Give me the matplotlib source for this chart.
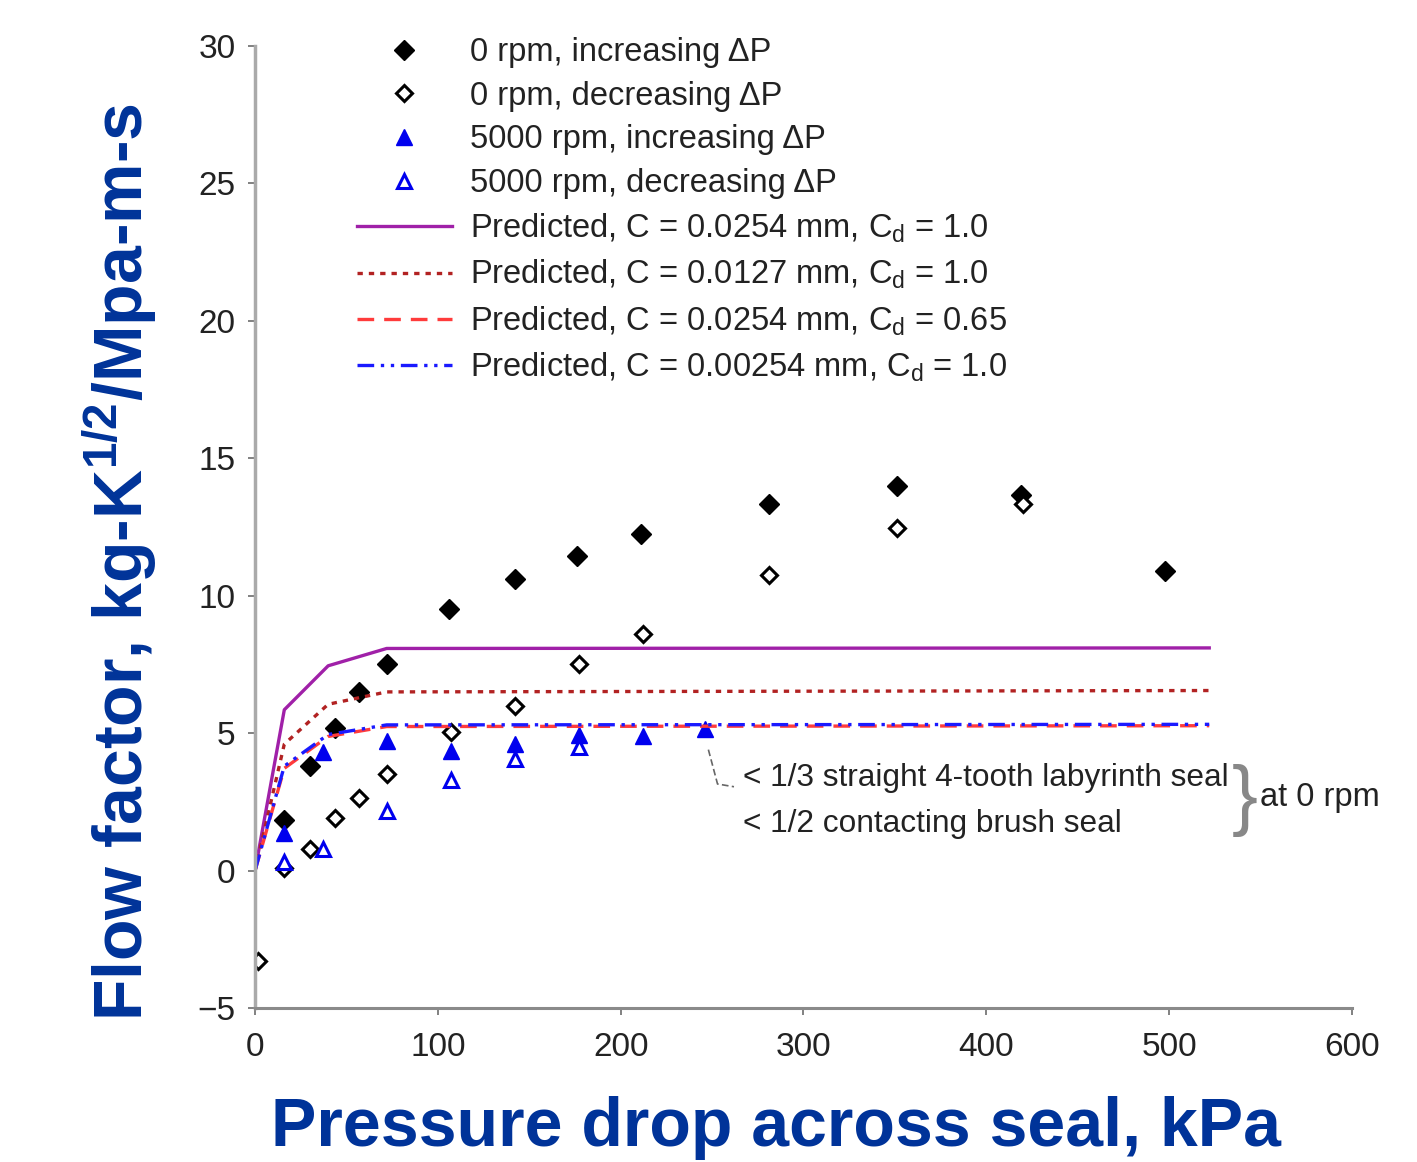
import matplotlib
matplotlib.use("Agg")
import matplotlib.pyplot as plt

plt.rcParams['font.family'] = ['Liberation Sans', 'DejaVu Sans']
plt.rcParams['mathtext.default'] = 'regular'

# 0 rpm, increasing dP
x_0inc = [16, 30, 44, 57, 72, 106, 142, 176, 211, 281, 351, 419, 498]
y_0inc = [1.85, 3.8, 5.2, 6.5, 7.5, 9.5, 10.6, 11.45, 12.25, 13.35, 14.0, 13.65, 10.9]
# 0 rpm, decreasing dP
x_0dec = [1.5, 16, 30, 44, 57, 72, 107, 142, 177, 212, 281, 351, 420]
y_0dec = [-3.3, 0.1, 0.8, 1.9, 2.65, 3.5, 5.05, 6.0, 7.5, 8.6, 10.75, 12.45, 13.35]
# 5000 rpm, increasing dP
x_5inc = [16, 37, 72, 107, 142, 177, 212, 246]
y_5inc = [1.35, 4.3, 4.7, 4.35, 4.6, 4.95, 4.9, 5.15]
# 5000 rpm, decreasing dP
x_5dec = [16, 37, 72, 107, 142, 177]
y_5dec = [0.3, 0.8, 2.15, 3.3, 4.05, 4.5]

# predicted curves
x_pred = [0, 16, 40, 72, 522]
y_pred_a = [0, 5.85, 7.45, 8.08, 8.1]    # C = 0.0254 mm, Cd = 1.0
y_pred_b = [0, 4.6, 6.05, 6.5, 6.55]     # C = 0.0127 mm, Cd = 1.0
y_pred_c = [0, 3.72, 4.88, 5.24, 5.27]   # C = 0.0254 mm, Cd = 0.65
y_pred_d = [0, 3.8, 4.95, 5.3, 5.32]     # C = 0.00254 mm, Cd = 1.0

xticks = [0, 100, 200, 300, 400, 500, 600]
yticks = [-5, 0, 5, 10, 15, 20, 25, 30]

fig = plt.figure(figsize=(14.17, 11.62), dpi=100)
ax = fig.add_axes([0.18, 0.1325, 0.774, 0.828])

ax.plot(x_0inc, y_0inc, 'D', ms=10, color='black', ls='none',
        label='0 rpm, increasing ΔP')
ax.plot(x_0dec, y_0dec, 'D', ms=8.5, mfc='white', mec='black', mew=2.2, ls='none',
        label='0 rpm, decreasing ΔP')
ax.plot(x_5inc, y_5inc, '^', ms=12, color='#0000ee', ls='none',
        label='5000 rpm, increasing ΔP')
ax.plot(x_5dec, y_5dec, '^', ms=10, mfc='white', mec='#0000ee', mew=2.2, ls='none',
        label='5000 rpm, decreasing ΔP')

ax.plot(x_pred, y_pred_a, '-', color='#a020a8', lw=2.4,
        label='Predicted, C = 0.0254 mm, C$_{d}$ = 1.0')
ax.plot(x_pred, y_pred_b, color='#b22222', lw=2.4, dashes=(1.6, 1.8),
        label='Predicted, C = 0.0127 mm, C$_{d}$ = 1.0')
ax.plot(x_pred, y_pred_c, color='#ff3b3b', lw=2.4, dashes=(5, 3),
        label='Predicted, C = 0.0254 mm, C$_{d}$ = 0.65')
ax.plot(x_pred, y_pred_d, color='#1a1aff', lw=2.4, dashes=(5, 2, 1, 2, 1, 2),
        label='Predicted, C = 0.00254 mm, C$_{d}$ = 1.0')

# annotation leader and notes
ax.plot([248, 253, 262], [4.4, 3.15, 3.05], color='#666666', lw=1.2, ls=(0, (4, 2)))
ax.text(267, 3.36, '< 1/3 straight 4-tooth labyrinth seal', fontsize=22.8,
        color='#222222', va='center', ha='left')
ax.text(267, 1.7, '< 1/2 contacting brush seal', fontsize=22.8,
        color='#222222', va='center', ha='left')
ax.text(541.5, 2.55, '}', fontsize=56, color='#888888', va='center', ha='center')
ax.text(550, 2.67, 'at 0 rpm', fontsize=23.5, color='#222222', va='center',
        ha='left', clip_on=False)

ax.set_xlim(0, 600)
ax.set_ylim(-5, 30)
ax.set_xticks(xticks)
ax.set_yticks(yticks)
ax.spines['top'].set_visible(False)
ax.spines['right'].set_visible(False)
ax.spines['left'].set_color('#aaaaaa')
ax.spines['left'].set_linewidth(2.5)
ax.spines['bottom'].set_color('#8a8a8a')
ax.spines['bottom'].set_linewidth(2.2)
ax.tick_params(axis='both', direction='out', length=5, width=1.3, colors='#777777',
               labelsize=24, labelcolor='#222222')
ax.tick_params(axis='y', pad=9)
ax.tick_params(axis='x', pad=12)

leg = ax.legend(loc='upper left', bbox_to_anchor=(357 / 1417, 1 - 37 / 1162),
                bbox_transform=fig.transFigure, frameon=False, fontsize=23.5,
                handlelength=2.9, handletextpad=0.55, labelspacing=0.39,
                borderpad=0, borderaxespad=0, numpoints=1)
for t in leg.get_texts():
    t.set_color('#222222')

fig.text(776 / 1417, 1 - 1128 / 1162, 'Pressure drop across seal, kPa',
         fontsize=49, fontweight='bold', color='#003399', ha='center', va='center',
         family=['Liberation Sans', 'DejaVu Sans'])
fig.text(120 / 1417, 1 - 562 / 1162, 'Flow factor, kg-K$^{1/2}$/Mpa-m-s',
         fontsize=49, fontweight='bold', color='#003399', ha='center', va='center',
         rotation=90, family=['Liberation Sans', 'DejaVu Sans'])

fig.savefig('out.png', dpi=100)
